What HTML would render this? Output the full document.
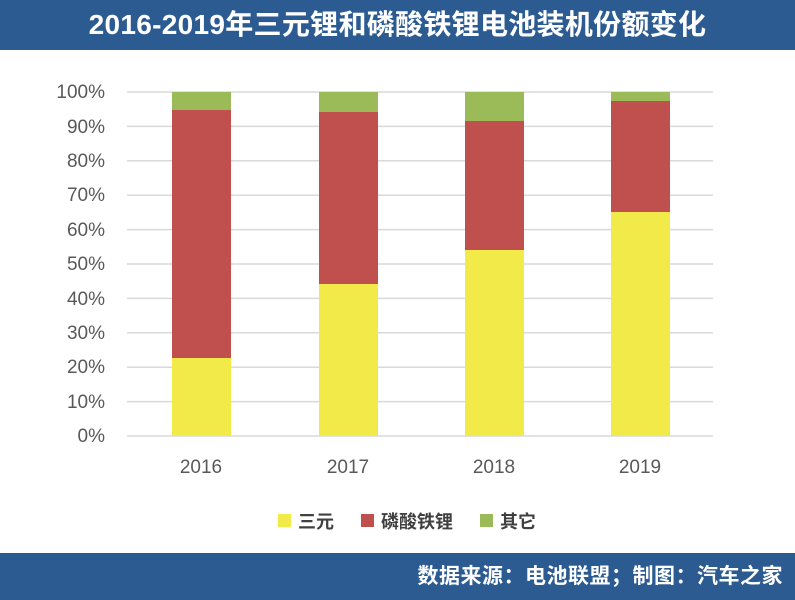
<!DOCTYPE html>
<html><head><meta charset="utf-8"><style>
body{margin:0;width:795px;height:600px;background:#fff;overflow:hidden;position:relative;font-family:"Liberation Sans","Noto Sans CJK SC",sans-serif}
.hd{position:absolute;left:0;top:0;width:795px;height:50px;background:#2b5b91;color:#fff;font-weight:bold;font-size:28px;line-height:50px;text-align:center;letter-spacing:0.3px}
.ft{position:absolute;left:0;top:553px;width:795px;height:47px;background:#2b5b91;color:#fff;font-weight:bold;font-size:21px;line-height:47px;text-align:right;box-sizing:border-box;padding-right:12px;letter-spacing:0.5px}
</style></head><body>
<div class="hd">2016-2019年三元锂和磷酸铁锂电池装机份额变化</div>
<svg width="795" height="600" style="position:absolute;left:0;top:0" xmlns="http://www.w3.org/2000/svg">
<g stroke="#d9d9d9" stroke-width="1.5">
<line x1="127" x2="713" y1="92" y2="92"/><line x1="127" x2="713" y1="126.4" y2="126.4"/><line x1="127" x2="713" y1="160.8" y2="160.8"/><line x1="127" x2="713" y1="195.2" y2="195.2"/><line x1="127" x2="713" y1="229.6" y2="229.6"/><line x1="127" x2="713" y1="264" y2="264"/><line x1="127" x2="713" y1="298.4" y2="298.4"/><line x1="127" x2="713" y1="332.8" y2="332.8"/><line x1="127" x2="713" y1="367.2" y2="367.2"/><line x1="127" x2="713" y1="401.6" y2="401.6"/><line x1="127" x2="713" y1="436" y2="436"/>
</g>
<g font-size="19" fill="#595959" text-anchor="end">
<text x="105" y="98">100%</text><text x="105" y="133">90%</text><text x="105" y="167">80%</text><text x="105" y="201">70%</text><text x="105" y="236">60%</text><text x="105" y="270">50%</text><text x="105" y="305">40%</text><text x="105" y="339">30%</text><text x="105" y="373">20%</text><text x="105" y="408">10%</text><text x="105" y="442">0%</text>
</g>
<g>
<rect x="172" y="92" width="59" height="18" fill="#9bbb59"/><rect x="172" y="110" width="59" height="248" fill="#c0504d"/><rect x="172" y="358" width="59" height="78" fill="#f2ea48"/>
<rect x="319" y="92" width="59" height="20" fill="#9bbb59"/><rect x="319" y="112" width="59" height="172" fill="#c0504d"/><rect x="319" y="284" width="59" height="152" fill="#f2ea48"/>
<rect x="465" y="92" width="59" height="29" fill="#9bbb59"/><rect x="465" y="121" width="59" height="129" fill="#c0504d"/><rect x="465" y="250" width="59" height="186" fill="#f2ea48"/>
<rect x="611" y="92" width="59" height="9" fill="#9bbb59"/><rect x="611" y="101" width="59" height="111" fill="#c0504d"/><rect x="611" y="212" width="59" height="224" fill="#f2ea48"/>
</g>
<g font-size="19" fill="#595959" text-anchor="middle">
<text x="201" y="473">2016</text><text x="348" y="473">2017</text><text x="494" y="473">2018</text><text x="640" y="473">2019</text>
</g>
<g font-size="18" fill="#404040" font-weight="bold">
<rect x="278" y="514" width="13" height="13" fill="#f2ea48"/><text x="298" y="528">三元</text>
<rect x="361" y="514" width="13" height="13" fill="#c0504d"/><text x="381" y="528">磷酸铁锂</text>
<rect x="480" y="514" width="13" height="13" fill="#9bbb59"/><text x="500" y="528">其它</text>
</g>
</svg>
<div class="ft">数据来源：电池联盟；制图：汽车之家</div>
</body></html>
